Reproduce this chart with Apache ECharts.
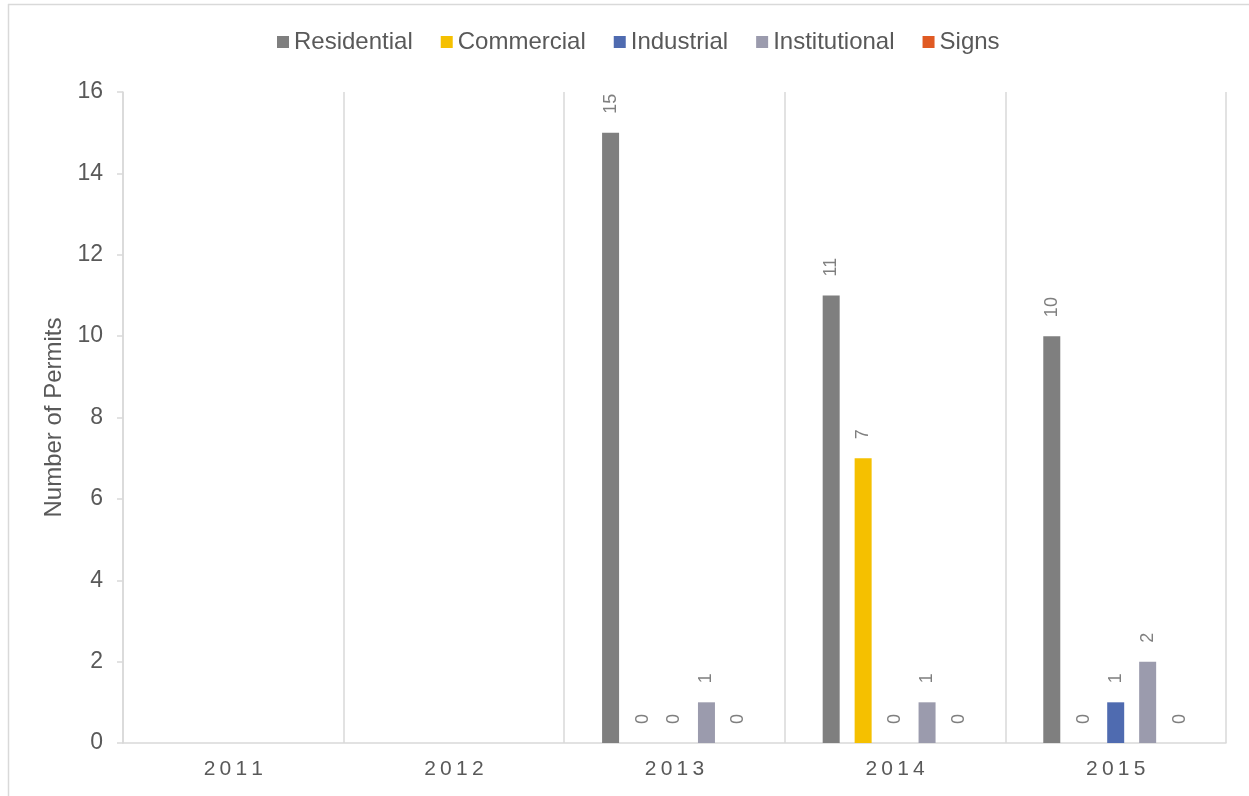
<!DOCTYPE html>
<html>
<head>
<meta charset="utf-8">
<script src="https://cdn.jsdelivr.net/npm/echarts@6/dist/echarts.min.js"></script>
<style>
  html, body { margin: 0; padding: 0; background: #fff; }
  #chart { width: 1249px; height: 796px; }
</style>
</head>
<body>
<div id="chart"></div>
<script>
// data (2011 and 2012 have no values)
const years = ['2011', '2012', '2013', '2014', '2015'];
const residential = [null, null, 15, 11, 10];
const commercial = [null, null, 0, 7, 0];
const industrial = [null, null, 0, 0, 1];
const institutional = [null, null, 1, 1, 2];
const signs = [null, null, 0, 0, 0];
const yTicks = [0, 2, 4, 6, 8, 10, 12, 14, 16];

const font = '"Liberation Sans", Arial, sans-serif';
const textColor = '#595959';

const makeSeries = (name, data, color) => ({
  name: name,
  type: 'bar',
  data: data,
  barWidth: 17,
  barGap: '88%',
  itemStyle: { color: color },
  label: {
    show: true,
    position: 'top',
    rotate: 90,
    align: 'left',
    verticalAlign: 'middle',
    distance: 19,
    color: '#7f7f7f',
    fontSize: 18,
    fontFamily: font
  }
});

const myChart = echarts.init(document.getElementById('chart'));
myChart.setOption({
  animation: false,
  textStyle: { fontFamily: font },
  graphic: [
    // outer frame, only the top and left edges are in the picture
    { type: 'line', shape: { x1: 8, y1: 4.5, x2: 1249, y2: 4.5 }, style: { stroke: '#d9d9d9', lineWidth: 1.5 } },
    { type: 'line', shape: { x1: 8.5, y1: 4, x2: 8.5, y2: 796 }, style: { stroke: '#d9d9d9', lineWidth: 1.5 } }
  ],
  legend: {
    top: 25,
    left: 272,
    itemWidth: 12,
    itemHeight: 12,
    itemGap: 28,
    icon: 'rect',
    textStyle: { color: textColor, fontSize: 24, fontFamily: font }
  },
  grid: { left: 123, right: 23, top: 92, bottom: 53, containLabel: false },
  xAxis: {
    type: 'category',
    data: years,
    axisLine: { lineStyle: { color: '#d9d9d9', width: 1.5 } },
    axisTick: { show: false },
    splitLine: { show: true, lineStyle: { color: '#d9d9d9', width: 1.5 } },
    axisLabel: {
      color: textColor,
      fontSize: 21,
      margin: 16,
      formatter: v => v.split('').join('\u2009')
    }
  },
  yAxis: {
    type: 'value',
    min: yTicks[0],
    max: yTicks[yTicks.length - 1],
    interval: 2,
    name: 'Number of Permits',
    nameLocation: 'middle',
    nameGap: 55,
    nameTextStyle: { color: textColor, fontSize: 24, fontFamily: font },
    axisLine: { show: true, lineStyle: { color: '#d9d9d9', width: 1.5 } },
    axisTick: { show: true, inside: false, length: 6, lineStyle: { color: '#d9d9d9', width: 1.5 } },
    splitLine: { show: false },
    axisLabel: { color: textColor, fontSize: 23, margin: 20 }
  },
  series: [
    makeSeries('Residential', residential, '#7f7f7f'),
    makeSeries('Commercial', commercial, '#f5c000'),
    makeSeries('Industrial', industrial, '#4f6bb0'),
    makeSeries('Institutional', institutional, '#9b9bad'),
    makeSeries('Signs', signs, '#e05a23')
  ]
});
</script>
</body>
</html>
